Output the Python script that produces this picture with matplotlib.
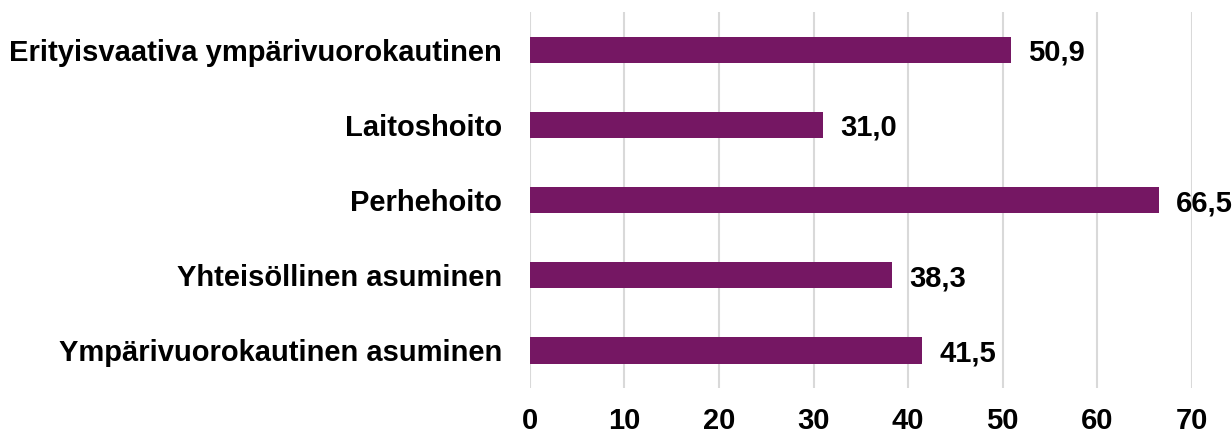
import numpy as np
import matplotlib.pyplot as plt

plt.rcParams['font.family'] = ['Liberation Sans', 'DejaVu Sans']

categories = ['Erityisvaativa ympärivuorokautinen', 'Laitoshoito', 'Perhehoito',
              'Yhteisöllinen asuminen', 'Ympärivuorokautinen asuminen']
values = [50.9, 31.0, 66.5, 38.3, 41.5]
ticks = [0, 10, 20, 30, 40, 50, 60, 70]

fig = plt.figure(figsize=(12.32, 4.34), dpi=100)
ax = fig.add_axes([0.430, 0.106, 0.5375, 0.866])

y = np.arange(len(categories))
ax.barh(y, values, height=0.35, color='#751763', zorder=3)
for yi, v in zip(y, values):
    ax.text(v + 1.8, yi, f'{v:.1f}'.replace('.', ','), va='center_baseline', ha='left',
            fontsize=21, fontweight='bold')

ax.set_xlim(0, 70)
ax.set_ylim(len(categories) - 0.5, -0.5)
ax.set_yticks(y)
ax.set_yticklabels(categories, fontsize=21, fontweight='bold')
ax.set_xticks(ticks)
ax.set_xticklabels([str(t) for t in ticks], fontsize=21, fontweight='bold')
ax.tick_params(length=0)
ax.tick_params(axis='x', pad=14)
ax.tick_params(axis='y', pad=20)
ax.grid(axis='x', color='#d9d9d9', linewidth=1.5, zorder=0)
for s in ax.spines.values():
    s.set_visible(False)

fig.savefig('out.png', dpi=100)
